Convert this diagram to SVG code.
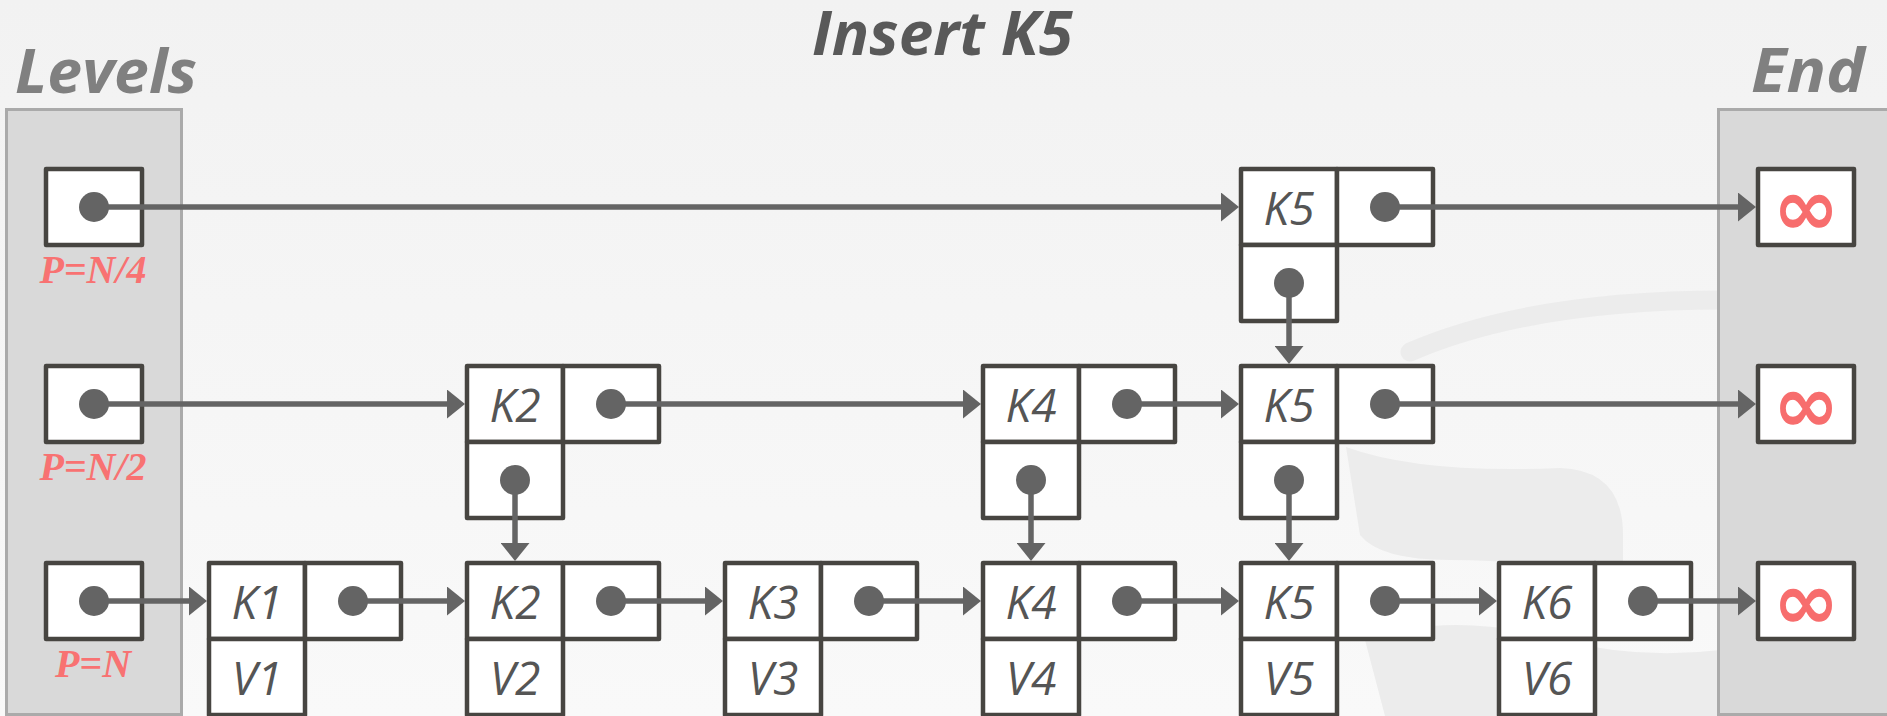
<svg xmlns="http://www.w3.org/2000/svg" width="1887" height="716" viewBox="0 0 1887 716">
  <defs>
    <linearGradient id="bg" x1="0" y1="0" x2="0" y2="1">
      <stop offset="0" stop-color="#f2f2f2"/>
      <stop offset="1" stop-color="#f9f9f9"/>
    </linearGradient>
    <marker id="ah" markerUnits="userSpaceOnUse" markerWidth="18" markerHeight="29" refX="8" refY="14.5" orient="auto">
      <path d="M0,0 L18,14.5 L0,29 Z" fill="#646464"/>
    </marker>
    <style>
      .cell { fill: #ffffff; stroke: #474541; stroke-width: 4.5; stroke-linejoin: round; }
      .dot { fill: #646464; }
      .conn { stroke: #646464; stroke-width: 5.5; fill: none; marker-end: url(#ah); }
      .head { font-family: "Open Sans", Lato, sans-serif; font-weight: bold; font-style: italic; font-size: 60px; }
      .lbl { font-family: "Open Sans", "Noto Sans", sans-serif; font-style: italic; font-size: 46px; fill: #555555; text-anchor: middle; }
      .prob { font-family: "Liberation Serif", serif; font-weight: bold; font-style: italic; font-size: 40px; fill: #f87272; text-anchor: middle; }
      .inf { font-family: "DejaVu Sans", sans-serif; font-weight: bold; font-size: 80px; fill: #f76d6d; text-anchor: middle; }
      .panel { fill: #d9d9d9; stroke: #aaaaaa; stroke-width: 3; }
    </style>
  </defs>

  <rect x="0" y="0" width="1887" height="716" fill="url(#bg)"/>

  <!-- faint watermark -->
  <g id="watermark" fill="#ececec" stroke="none">
    <path d="M1410,352 Q1530,300 1725,300" stroke="#ececec" stroke-width="19" stroke-linecap="round" fill="none"/>
    <path d="M1346,447 Q1420,474 1560,468 Q1623,470 1623,535 L1623,585 Q1560,560 1450,560 Q1380,560 1360,535 Z"/>
    <path d="M1365,640 Q1450,610 1560,640 Q1640,660 1720,650 L1720,716 L1385,716 Z"/>
  </g>

  <!-- titles -->
  <text x="812" y="55" class="head" fill="#595959" textLength="261" lengthAdjust="spacingAndGlyphs">Insert K5</text>
  <text x="15" y="93" class="head" fill="#808080" textLength="182" lengthAdjust="spacingAndGlyphs">Levels</text>
  <text x="1751" y="92" class="head" fill="#808080" textLength="114" lengthAdjust="spacingAndGlyphs">End</text>

  <!-- panels -->
  <rect id="levels-panel" class="panel" x="6.5" y="109.5" width="175" height="605"/>
  <rect id="end-panel" class="panel" x="1718.5" y="109.5" width="180" height="605"/>

  <!-- level heads -->
  <g id="level-n4">
    <rect class="cell" x="46" y="169" width="96" height="76"/>
    <circle class="dot" cx="94" cy="207" r="15"/>
    <text class="prob" x="93" y="283">P=N/4</text>
  </g>
  <g id="level-n2">
    <rect class="cell" x="46" y="366" width="96" height="76"/>
    <circle class="dot" cx="94" cy="404" r="15"/>
    <text class="prob" x="93" y="480">P=N/2</text>
  </g>
  <g id="level-n">
    <rect class="cell" x="46" y="563" width="96" height="76"/>
    <circle class="dot" cx="94" cy="601" r="15"/>
    <text class="prob" x="93" y="677">P=N</text>
  </g>

  <!-- level N/4 nodes -->
  <g id="k5-top">
    <rect class="cell" x="1241" y="169" width="96" height="76"/>
    <rect class="cell" x="1337" y="169" width="96" height="76"/>
    <rect class="cell" x="1241" y="245" width="96" height="76"/>
    <text class="lbl" x="1289" y="225">K5</text>
    <circle class="dot" cx="1385" cy="207" r="15"/>
    <circle class="dot" cx="1289" cy="283" r="15"/>
  </g>

  <!-- level N/2 nodes -->
  <g id="k2-mid">
    <rect class="cell" x="467" y="366" width="96" height="76"/>
    <rect class="cell" x="563" y="366" width="96" height="76"/>
    <rect class="cell" x="467" y="442" width="96" height="76"/>
    <text class="lbl" x="515" y="422">K2</text>
    <circle class="dot" cx="611" cy="404" r="15"/>
    <circle class="dot" cx="515" cy="480" r="15"/>
  </g>
  <g id="k4-mid">
    <rect class="cell" x="983" y="366" width="96" height="76"/>
    <rect class="cell" x="1079" y="366" width="96" height="76"/>
    <rect class="cell" x="983" y="442" width="96" height="76"/>
    <text class="lbl" x="1031" y="422">K4</text>
    <circle class="dot" cx="1127" cy="404" r="15"/>
    <circle class="dot" cx="1031" cy="480" r="15"/>
  </g>
  <g id="k5-mid">
    <rect class="cell" x="1241" y="366" width="96" height="76"/>
    <rect class="cell" x="1337" y="366" width="96" height="76"/>
    <rect class="cell" x="1241" y="442" width="96" height="76"/>
    <text class="lbl" x="1289" y="422">K5</text>
    <circle class="dot" cx="1385" cy="404" r="15"/>
    <circle class="dot" cx="1289" cy="480" r="15"/>
  </g>

  <!-- level N nodes -->
  <g id="k1">
    <rect class="cell" x="209" y="563" width="96" height="76"/>
    <rect class="cell" x="305" y="563" width="96" height="76"/>
    <rect class="cell" x="209" y="639" width="96" height="76"/>
    <text class="lbl" x="257" y="619">K1</text>
    <text class="lbl" x="257" y="695">V1</text>
    <circle class="dot" cx="353" cy="601" r="15"/>
  </g>
  <g id="k2">
    <rect class="cell" x="467" y="563" width="96" height="76"/>
    <rect class="cell" x="563" y="563" width="96" height="76"/>
    <rect class="cell" x="467" y="639" width="96" height="76"/>
    <text class="lbl" x="515" y="619">K2</text>
    <text class="lbl" x="515" y="695">V2</text>
    <circle class="dot" cx="611" cy="601" r="15"/>
  </g>
  <g id="k3">
    <rect class="cell" x="725" y="563" width="96" height="76"/>
    <rect class="cell" x="821" y="563" width="96" height="76"/>
    <rect class="cell" x="725" y="639" width="96" height="76"/>
    <text class="lbl" x="773" y="619">K3</text>
    <text class="lbl" x="773" y="695">V3</text>
    <circle class="dot" cx="869" cy="601" r="15"/>
  </g>
  <g id="k4">
    <rect class="cell" x="983" y="563" width="96" height="76"/>
    <rect class="cell" x="1079" y="563" width="96" height="76"/>
    <rect class="cell" x="983" y="639" width="96" height="76"/>
    <text class="lbl" x="1031" y="619">K4</text>
    <text class="lbl" x="1031" y="695">V4</text>
    <circle class="dot" cx="1127" cy="601" r="15"/>
  </g>
  <g id="k5">
    <rect class="cell" x="1241" y="563" width="96" height="76"/>
    <rect class="cell" x="1337" y="563" width="96" height="76"/>
    <rect class="cell" x="1241" y="639" width="96" height="76"/>
    <text class="lbl" x="1289" y="619">K5</text>
    <text class="lbl" x="1289" y="695">V5</text>
    <circle class="dot" cx="1385" cy="601" r="15"/>
  </g>
  <g id="k6">
    <rect class="cell" x="1499" y="563" width="96" height="76"/>
    <rect class="cell" x="1595" y="563" width="96" height="76"/>
    <rect class="cell" x="1499" y="639" width="96" height="76"/>
    <text class="lbl" x="1547" y="619">K6</text>
    <text class="lbl" x="1547" y="695">V6</text>
    <circle class="dot" cx="1643" cy="601" r="15"/>
  </g>

  <!-- end sentinels -->
  <g id="end-n4">
    <rect class="cell" x="1758" y="169" width="96" height="76"/>
    <text class="inf" x="1806" y="235">∞</text>
  </g>
  <g id="end-n2">
    <rect class="cell" x="1758" y="366" width="96" height="76"/>
    <text class="inf" x="1806" y="432">∞</text>
  </g>
  <g id="end-n">
    <rect class="cell" x="1758" y="563" width="96" height="76"/>
    <text class="inf" x="1806" y="629">∞</text>
  </g>

  <!-- connectors (drawn over the cells, starting at the dots) -->
  <g id="connectors">
    <!-- level N/4 -->
    <line class="conn" x1="94" y1="207" x2="1229" y2="207"/>
    <line class="conn" x1="1385" y1="207" x2="1746" y2="207"/>
    <!-- level N/2 -->
    <line class="conn" x1="94" y1="404" x2="455" y2="404"/>
    <line class="conn" x1="611" y1="404" x2="971" y2="404"/>
    <line class="conn" x1="1127" y1="404" x2="1229" y2="404"/>
    <line class="conn" x1="1385" y1="404" x2="1746" y2="404"/>
    <!-- level N -->
    <line class="conn" x1="94" y1="601" x2="197" y2="601"/>
    <line class="conn" x1="353" y1="601" x2="455" y2="601"/>
    <line class="conn" x1="611" y1="601" x2="713" y2="601"/>
    <line class="conn" x1="869" y1="601" x2="971" y2="601"/>
    <line class="conn" x1="1127" y1="601" x2="1229" y2="601"/>
    <line class="conn" x1="1385" y1="601" x2="1487" y2="601"/>
    <line class="conn" x1="1643" y1="601" x2="1746" y2="601"/>
    <!-- vertical -->
    <line class="conn" x1="1289" y1="283" x2="1289" y2="354"/>
    <line class="conn" x1="1289" y1="480" x2="1289" y2="551"/>
    <line class="conn" x1="515" y1="480" x2="515" y2="551"/>
    <line class="conn" x1="1031" y1="480" x2="1031" y2="551"/>
  </g>
</svg>
